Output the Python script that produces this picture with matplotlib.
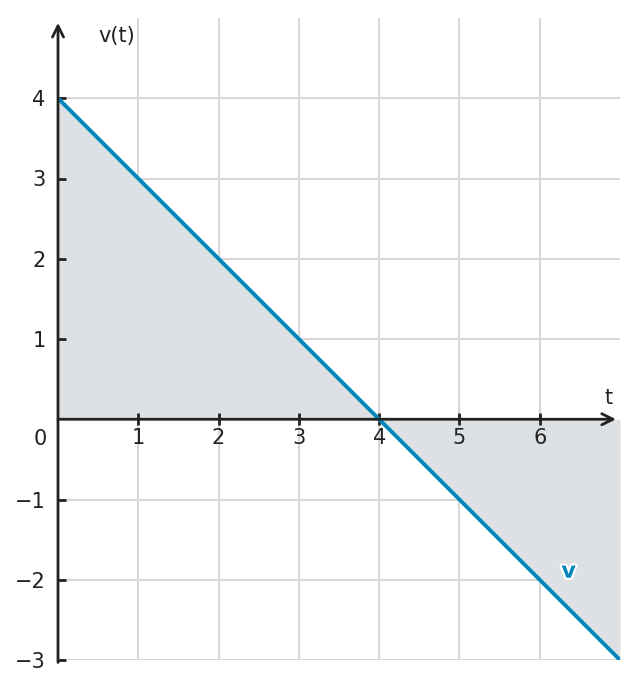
import numpy as np
import matplotlib.pyplot as plt
import matplotlib.patheffects as pe

# data: v(t) = 4 - t
t_vals = [0, 7]
v_vals = [4, -3]
x_ticks = [1, 2, 3, 4, 5, 6]
y_ticks = [-3, -2, -1, 1, 2, 3, 4]

line_col = '#0086bb'
fill_col = '#dde1e4'
axis_col = '#222222'
grid_col = '#d7d7d7'
fs = 15

plt.rcParams['font.family'] = 'DejaVu Sans'
fig = plt.figure(figsize=(6.39, 6.89), dpi=100)
ax = fig.add_axes([58/639, 29/689, 562/639, 642/689])
ax.set_xlim(0, 7)
ax.set_ylim(-3, 5)

# grid
for x in x_ticks:
    ax.axvline(x, color=grid_col, lw=1.5, zorder=0)
for y in y_ticks:
    ax.axhline(y, color=grid_col, lw=1.5, zorder=0)

# shaded area and line
ax.fill_between(t_vals, v_vals, 0, color=fill_col, zorder=1, lw=0)
ax.plot(t_vals, v_vals, color=line_col, lw=2.8, zorder=4, solid_capstyle='butt')

# axes with arrows
for s in ax.spines.values():
    s.set_visible(False)
ax.spines['left'].set_position(('data', 0))
ax.spines['bottom'].set_position(('data', 0))
ax.annotate('', xy=(0, 4.94), xytext=(0, -3.03),
            arrowprops=dict(arrowstyle='->', lw=2, color=axis_col, shrinkA=0, shrinkB=0,
                            mutation_scale=20), zorder=5)
ax.annotate('', xy=(6.95, 0), xytext=(0, 0),
            arrowprops=dict(arrowstyle='->', lw=2, color=axis_col, shrinkA=0, shrinkB=0,
                            mutation_scale=20), zorder=5)

ax.set_xticks(x_ticks)
ax.set_yticks(y_ticks)
ax.set_yticklabels(['\u2212' + str(-y) if y < 0 else str(y) for y in y_ticks])
ax.tick_params(axis='x', direction='inout', length=9, width=2, color=axis_col,
               labelsize=fs, labelcolor=axis_col, pad=2)
ax.tick_params(axis='y', direction='in', length=6, width=2, color=axis_col,
               labelsize=fs, labelcolor=axis_col, pad=9)
for tk in ax.xaxis.get_major_ticks() + ax.yaxis.get_major_ticks():
    tk.tick1line.set_zorder(6)

ax.text(-0.22, -0.24, '0', fontsize=fs, color=axis_col, ha='center', va='center')
ax.text(0.5, 4.78, 'v(t)', fontsize=fs, color=axis_col, ha='left', va='center')
ax.text(6.86, 0.27, 't', fontsize=fs, color=axis_col, ha='center', va='center')
ax.text(6.36, -1.9, 'v', fontsize=16, fontweight='bold', color=line_col,
        ha='center', va='center', zorder=7,
        path_effects=[pe.withStroke(linewidth=3, foreground='white')])

fig.savefig('out.png', dpi=100)
